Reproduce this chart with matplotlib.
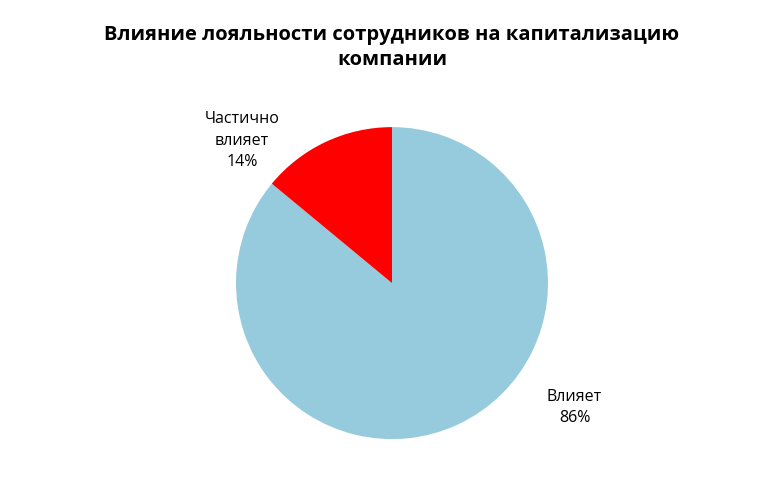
import matplotlib
matplotlib.use("Agg")
import matplotlib.pyplot as plt

labels = ["Влияет", "Частично\nвлияет"]
values = [86, 14]
colors = ["#96CBDD", "#FF0000"]
title = "Влияние лояльности сотрудников на капитализацию\nкомпании"

plt.rcParams['font.family'] = ['Open Sans', 'DejaVu Sans']
fig = plt.figure(figsize=(7.84, 4.89), dpi=100)
ax = fig.add_axes([0.301, 0.1, 0.398, 0.638])
ax.pie(values, colors=colors, startangle=90, counterclock=False,
       wedgeprops=dict(linewidth=0))
ax.set_xlim(-1, 1); ax.set_ylim(-1, 1)
ax.set_aspect('equal')
pos = [(1.17, -0.79), (-0.96, 0.92)]
for lab, v, (x, y) in zip(labels, values, pos):
    ax.text(x, y, f"{lab}\n{v}%", ha='center', va='center', fontsize=11.5,
            linespacing=1.45, clip_on=False)
fig.text(0.5, 0.903, title, ha='center', va='center', fontsize=14.5,
         fontweight='bold', linespacing=1.3)
fig.savefig("out.png", dpi=100, facecolor='white')
